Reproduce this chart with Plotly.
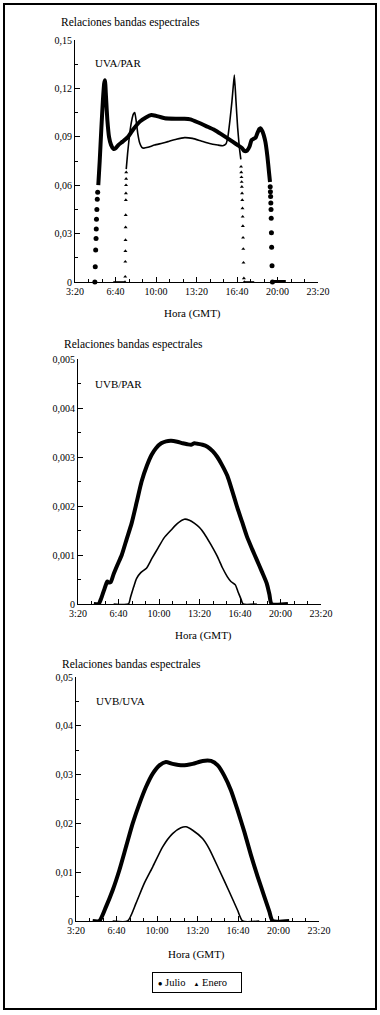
import plotly.graph_objects as go

W, H = 380, 1015
FONT = "Liberation Serif"

# ---------------- shared x axis (minutes since midnight, GMT) ----------------
x_tickvals = [200, 400, 600, 800, 1000, 1200, 1400]
x_ticktext = ["3:20", "6:40", "10:00", "13:20", "16:40", "20:00", "23:20"]

# ---------------- Panel 1: UVA/PAR ----------------
uva_par_tickvals = [0, 0.03, 0.06, 0.09, 0.12, 0.15]
uva_par_ticktext = ["0", "0,03", "0,06", "0,09", "0,12", "0,15"]

# Julio: continuous curve (None separates the post-sunset zero run)
uva_par_julio_t = [315, 322, 330, 338, 344, 348, 353, 360, 368, 378, 390, 400, 415, 435,
                   462, 490, 520, 550, 577, 600, 643, 700, 741, 770, 806, 850, 889, 920,
                   954, 980, 1003, 1025, 1036, 1050, 1062, 1072, 1082, 1092, 1100, 1110,
                   1116, 1125, 1140, 1150, 1158, 1163, None, 1175, 1241]
uva_par_julio_v = [0.060, 0.075, 0.095, 0.113, 0.123, 0.125, 0.115, 0.100, 0.090, 0.085,
                   0.0825, 0.0828, 0.0850, 0.0870, 0.0900, 0.0950, 0.0994, 0.1020, 0.1035,
                   0.1030, 0.1015, 0.1012, 0.1012, 0.1008, 0.0990, 0.0965, 0.0942, 0.0918,
                   0.0890, 0.0868, 0.0849, 0.0830, 0.0812, 0.0815, 0.0840, 0.0880, 0.0888,
                   0.0895, 0.0920, 0.0948, 0.0953, 0.0935, 0.0870, 0.0780, 0.0680, 0.0620,
                   None, 0, 0]
# Julio: sparse readings at sunrise / sunset
uva_par_julio_edge_t = [298, 300, 302, 304, 305, 306, 308, 310, 312,
                        1164, 1165, 1166, 1167, 1168, 1169, 1170, 1171, 1173, 1175]
uva_par_julio_edge_v = [0.0, 0.0095, 0.0198, 0.027, 0.0329, 0.0389, 0.045, 0.0513, 0.0556,
                        0.059, 0.056, 0.053, 0.049, 0.045, 0.0395, 0.0306, 0.0215, 0.0101, 0.0]

# Enero: continuous curve
uva_par_enero_t = [389, 446, None, 453, 460, 470, 480, 488, 495, 502, 510, 520, 530, 540,
                   560, 593, 630, 659, 700, 741, 780, 823, 860, 905, 930, 945, 955, 965,
                   975, 982, 987, 995, 1003, 1012, 1019, None, 1036, 1085]
uva_par_enero_v = [0, 0, None, 0.070, 0.080, 0.092, 0.100, 0.104, 0.105, 0.100, 0.092,
                   0.086, 0.0835, 0.0830, 0.0835, 0.0849, 0.0860, 0.0870, 0.0885, 0.0895,
                   0.0890, 0.0874, 0.0860, 0.0849, 0.0845, 0.0855, 0.0900, 0.1000, 0.1120,
                   0.1220, 0.1283, 0.1120, 0.0960, 0.0830, 0.0760, None, 0, 0]
# Enero: sparse readings at sunrise / sunset
uva_par_enero_edge_t = [447, 448, 448.5, 449, 449.5, 450, 450.5, 451, 451.5, 452, 452.5, 453,
                        1020, 1021, 1022, 1023, 1024, 1025, 1026, 1027, 1028, 1029, 1030,
                        1031, 1032, 1034, 1036]
uva_par_enero_edge_v = [0.0, 0.0033, 0.0126, 0.0192, 0.026, 0.0339, 0.0415, 0.0508, 0.055,
                        0.060, 0.064, 0.068,
                        0.0715, 0.068, 0.065, 0.062, 0.059, 0.055, 0.0508, 0.0457, 0.0405,
                        0.0347, 0.0275, 0.0205, 0.012, 0.0023, 0.0]

# ---------------- Panel 2: UVB/PAR ----------------
uvb_par_tickvals = [0, 0.001, 0.002, 0.003, 0.004, 0.005]
uvb_par_ticktext = ["0", "0,001", "0,002", "0,003", "0,004", "0,005"]

uvb_par_julio_t = [278, 302, 315, 330, 340, 345, 352, 362, 375, 395, 416, 440, 465, 490,
                   514, 540, 563, 585, 611, 635, 660, 690, 717, 740, 758, 775, 790, 815,
                   839, 865, 888, 912, 937, 960, 985, 1010, 1034, 1060, 1083, 1108, 1132,
                   1145, 1156, 1237]
uvb_par_julio_v = [0, 0, 0.00012, 0.00030, 0.00042, 0.00046, 0.00044, 0.00045, 0.00060,
                   0.00080, 0.00100, 0.00132, 0.00165, 0.00208, 0.00250, 0.00282, 0.00304,
                   0.00318, 0.00328, 0.00332, 0.00333, 0.00331, 0.00328, 0.00326, 0.00325,
                   0.00328, 0.00327, 0.00325, 0.00321, 0.00312, 0.00300, 0.00283, 0.00262,
                   0.00233, 0.00199, 0.00168, 0.00138, 0.00112, 0.00090, 0.00066, 0.00042,
                   0.00020, 0, 0]

uvb_par_enero_t = [376, 449, 460, 475, 489, 510, 538, 565, 595, 625, 660, 690, 725, 750,
                   774, 800, 823, 855, 888, 912, 937, 955, 977, 990, 1005, 1015, 1083]
uvb_par_enero_v = [0, 0, 0.00015, 0.00035, 0.00052, 0.00064, 0.00073, 0.00093, 0.00114,
                   0.00135, 0.00151, 0.00164, 0.00173, 0.00171, 0.00165, 0.00156, 0.00144,
                   0.00122, 0.00097, 0.00075, 0.00056, 0.00046, 0.00039, 0.00025, 0.00010,
                   0, 0]

# ---------------- Panel 3: UVB/UVA ----------------
uvb_uva_tickvals = [0, 0.01, 0.02, 0.03, 0.04, 0.05]
uvb_uva_ticktext = ["0", "0,01", "0,02", "0,03", "0,04", "0,05"]

uvb_uva_julio_t = [282, 315, 348, 381, 414, 447, 480, 513, 546, 579, 612, 644, 677, 727,
                   776, 825, 867, 900, 932, 965, 998, 1031, 1064, 1097, 1130, 1155, 1171, 1253]
uvb_uva_julio_v = [0, 0, 0.0029, 0.0063, 0.0104, 0.0152, 0.0200, 0.0240, 0.0275, 0.0302,
                   0.0319, 0.0326, 0.0322, 0.0319, 0.0322, 0.0328, 0.0328, 0.0319, 0.0298,
                   0.0268, 0.0227, 0.0183, 0.0135, 0.0091, 0.0050, 0.0019, 0, 0]

uvb_uva_enero_t = [381, 455, 496, 537, 579, 628, 677, 718, 743, 776, 825, 858, 908, 957,
                   998, 1023, 1105]
uvb_uva_enero_v = [0, 0, 0.0036, 0.0077, 0.0111, 0.0152, 0.0179, 0.0191, 0.0193, 0.0186,
                   0.0169, 0.0148, 0.0104, 0.0060, 0.0022, 0, 0]

series_names = ["Julio", "Enero"]

# ---------------- layout helpers (page pixel -> paper) ----------------
def px(x):
    return x / W


def py(y):
    return 1 - y / H


panels = [
    dict(xd=(75, 318), yd=(40, 282), ymax=0.15, minor=0.015,
         tv=uva_par_tickvals, tt=uva_par_ticktext, title_xy=(59, 23), lab="UVA/PAR",
         lab_xy=(93, 63), hora_xy=(192, 313)),
    dict(xd=(78, 321), yd=(359, 604), ymax=0.005, minor=0.0005,
         tv=uvb_par_tickvals, tt=uvb_par_ticktext, title_xy=(62, 344), lab="UVB/PAR",
         lab_xy=(93, 384), hora_xy=(203, 635)),
    dict(xd=(76, 319), yd=(677, 921), ymax=0.05, minor=0.005,
         tv=uvb_uva_tickvals, tt=uvb_uva_ticktext, title_xy=(60, 664), lab="UVB/UVA",
         lab_xy=(94, 701), hora_xy=(197, 954)),
]

fig = go.Figure()

JULIO_W = 4
ENERO_W = 1.6


def add_line(t, v, width, i, name, smoothing=0.6):
    fig.add_trace(go.Scatter(
        x=t, y=v, mode="lines", name=name,
        line=dict(color="black", width=width, shape="spline", smoothing=smoothing),
        xaxis=f"x{i}", yaxis=f"y{i}", showlegend=False, cliponaxis=False,
        hoverinfo="skip"))


# Panel 1
add_line(uva_par_julio_t, uva_par_julio_v, JULIO_W, 1, series_names[0], 0.5)
add_line(uva_par_enero_t, uva_par_enero_v, ENERO_W, 1, series_names[1], 0.4)
fig.add_trace(go.Scatter(
    x=uva_par_julio_edge_t, y=uva_par_julio_edge_v, mode="markers", name=series_names[0],
    marker=dict(symbol="circle", size=5, color="black"), showlegend=False,
    xaxis="x1", yaxis="y1", cliponaxis=False))
fig.add_trace(go.Scatter(
    x=uva_par_enero_edge_t, y=uva_par_enero_edge_v, mode="markers", name=series_names[1],
    marker=dict(symbol="triangle-up", size=3.5, color="black"), showlegend=False,
    xaxis="x1", yaxis="y1", cliponaxis=False))
# Panel 2
add_line(uvb_par_julio_t, uvb_par_julio_v, JULIO_W, 2, series_names[0])
add_line(uvb_par_enero_t, uvb_par_enero_v, ENERO_W, 2, series_names[1])
# Panel 3
add_line(uvb_uva_julio_t, uvb_uva_julio_v, JULIO_W, 3, series_names[0])
add_line(uvb_uva_enero_t, uvb_uva_enero_v, ENERO_W, 3, series_names[1])

tickfont = dict(family=FONT, size=10, color="black")
annotations = []
layout_axes = {}
for k, p in enumerate(panels, start=1):
    sfx = "" if k == 1 else str(k)
    layout_axes[f"xaxis{sfx}"] = dict(
        domain=[px(p["xd"][0]), px(p["xd"][1])], range=[200, 1400],
        anchor=f"y{k}", tickmode="array", tickvals=x_tickvals, ticktext=x_ticktext,
        ticks="inside", ticklen=5, tickwidth=1, tickcolor="black",
        showline=True, linecolor="black", linewidth=1, showgrid=False, zeroline=False,
        tickfont=tickfont, fixedrange=True, automargin=False,
        minor=dict(ticks="inside", ticklen=3, tickwidth=1, tickcolor="black",
                   tickmode="linear", tick0=200, dtick=200 / 3, showgrid=False))
    layout_axes[f"yaxis{sfx}"] = dict(
        domain=[py(p["yd"][1]), py(p["yd"][0])], range=[0, p["ymax"]],
        anchor=f"x{k}", tickmode="array", tickvals=p["tv"], ticktext=p["tt"],
        ticks="inside", ticklen=5, tickwidth=1, tickcolor="black",
        showline=True, linecolor="black", linewidth=1, showgrid=False, zeroline=False,
        tickfont=tickfont, fixedrange=True, automargin=False,
        minor=dict(ticks="inside", ticklen=3, tickwidth=1, tickcolor="black",
                   tickmode="linear", tick0=0, dtick=p["minor"], showgrid=False))
    annotations.append(dict(
        text="Relaciones bandas espectrales", xref="paper", yref="paper",
        x=px(p["title_xy"][0]), y=py(p["title_xy"][1]), xanchor="left", yanchor="middle",
        showarrow=False, font=dict(family=FONT, size=11.5, color="black")))
    annotations.append(dict(
        text=p["lab"], xref="paper", yref="paper",
        x=px(p["lab_xy"][0]), y=py(p["lab_xy"][1]), xanchor="left", yanchor="middle",
        showarrow=False, font=dict(family=FONT, size=11, color="black")))
    annotations.append(dict(
        text="Hora (GMT)", xref="paper", yref="paper",
        x=px(p["hora_xy"][0]), y=py(p["hora_xy"][1]), xanchor="center", yanchor="middle",
        showarrow=False, font=dict(family=FONT, size=11, color="black")))

# compact boxed legend (symbol right next to its label, as in the original)
legend_text = ('&nbsp;<span style="font-size:8px">●</span> ' + series_names[0] +
               '&nbsp;&nbsp;&nbsp;<span style="font-size:6px">▲</span> ' + series_names[1])
annotations.append(dict(
    text=legend_text, xref="paper", yref="paper", x=px(197), y=py(982.5),
    xanchor="center", yanchor="middle", showarrow=False, align="left",
    width=84, height=15, borderpad=2, bordercolor="black", borderwidth=1,
    bgcolor="white", font=dict(family=FONT, size=10.5, color="black")))

fig.update_layout(
    width=W, height=H,
    margin=dict(l=0, r=0, t=0, b=0, pad=0, autoexpand=False),
    paper_bgcolor="white", plot_bgcolor="white",
    font=dict(family=FONT, color="black"),
    annotations=annotations,
    shapes=[dict(type="rect", xref="paper", yref="paper",
                 x0=px(4), x1=px(376), y0=py(1009), y1=py(4),
                 line=dict(color="black", width=2))],
    showlegend=False,
    **layout_axes,
)

fig.write_html("out.html", config={"displayModeBar": False},
               post_script="document.body.style.margin='0';")
